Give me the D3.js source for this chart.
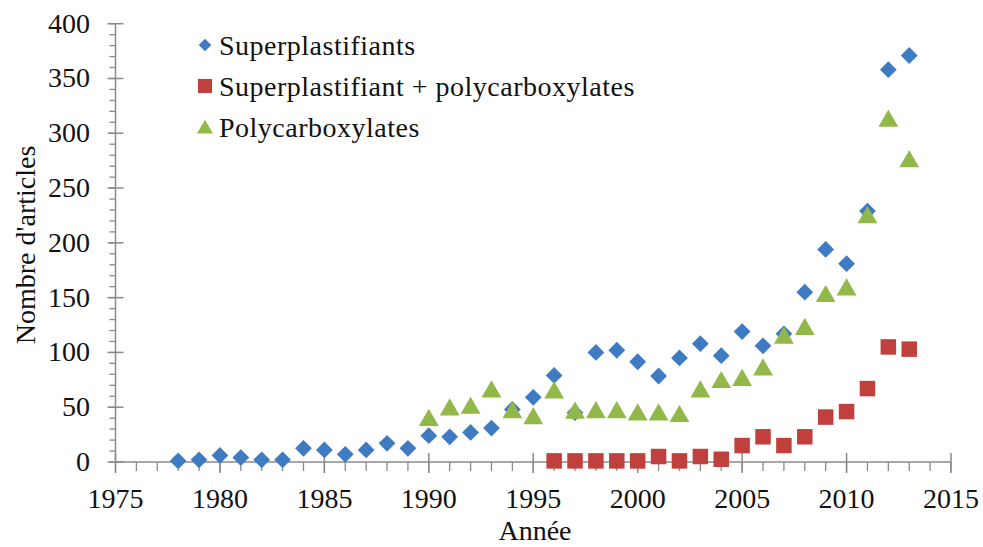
<!DOCTYPE html>
<html>
<head>
<meta charset="utf-8">
<script src="https://cdn.jsdelivr.net/npm/d3@7"></script>
<style>
  body { margin: 0; background: #fff; }
  svg text { font-family: "Liberation Serif", "Times New Roman", serif; fill: #111; }
</style>
</head>
<body>
<svg id="chart" width="983" height="547"></svg>
<script>
// data
var superYears = d3.range(1978, 2014);
var superVals = [1, 2, 6, 4, 2, 2, 12.5, 11, 7, 11, 17, 12.5, 24, 23, 27, 31, 48, 59, 79, 45,
  100, 102, 91.5, 78.5, 95, 108, 97, 119, 106, 117, 155, 194, 181, 229, 358, 371];

var mixYears = d3.range(1996, 2014);
var mixVals = [1, 1, 1, 1, 1, 5, 1, 5, 2.5, 15, 23, 15, 23, 41, 46, 67, 105, 103];

var polyYears = d3.range(1990, 2014);
var polyVals = [40, 49.5, 51, 66, 47, 41.5, 65, 46.5, 47, 47, 45, 45, 43.5, 66, 74.5, 76.5,
  86, 115, 123, 153, 159, 225, 313, 276];

var xTicks = [1975, 1980, 1985, 1990, 1995, 2000, 2005, 2010, 2015];
var yTicks = [0, 50, 100, 150, 200, 250, 300, 350, 400];

var seriesNames = ["Superplastifiants", "Superplastifiant + polycarboxylates", "Polycarboxylates"];
var colors = ["#3f7bc2", "#c0403d", "#93b84a"];

var svg = d3.select("#chart");
var plotLeft = 115.5, plotRight = 951, plotTop = 23.7, plotBottom = 462;

var x = d3.scaleLinear().domain([1975, 2015]).range([plotLeft, plotRight]);
var y = d3.scaleLinear().domain([0, 400]).range([plotBottom, plotTop]);

var axisColor = "#8a8a8a";
var fs = 28;

// minor ticks
var g = svg.append("g");
g.selectAll(".ymin").data(d3.range(0, 401, 10)).enter().append("line")
  .attr("x1", plotLeft - 6).attr("x2", plotLeft)
  .attr("y1", d => y(d)).attr("y2", d => y(d))
  .attr("stroke", axisColor).attr("stroke-width", 1.3);
g.selectAll(".xmin").data(d3.range(1975, 2016)).enter().append("line")
  .attr("x1", d => x(d)).attr("x2", d => x(d))
  .attr("y1", plotBottom).attr("y2", plotBottom + 9)
  .attr("stroke", axisColor).attr("stroke-width", 1.3);

// major ticks cross the axes
g.selectAll(".ymaj").data(yTicks).enter().append("line")
  .attr("x1", plotLeft - 8).attr("x2", plotLeft + 8)
  .attr("y1", d => y(d)).attr("y2", d => y(d))
  .attr("stroke", axisColor).attr("stroke-width", 1.5);
g.selectAll(".xmaj").data(xTicks).enter().append("line")
  .attr("x1", d => x(d)).attr("x2", d => x(d))
  .attr("y1", plotBottom - 9).attr("y2", plotBottom + 11)
  .attr("stroke", axisColor).attr("stroke-width", 1.5);

// axis lines
g.append("line").attr("x1", plotLeft).attr("x2", plotLeft).attr("y1", plotTop).attr("y2", plotBottom)
  .attr("stroke", axisColor).attr("stroke-width", 1.5);
g.append("line").attr("x1", plotLeft).attr("x2", plotRight).attr("y1", plotBottom).attr("y2", plotBottom)
  .attr("stroke", axisColor).attr("stroke-width", 1.5);

// tick labels
svg.selectAll(".ylab").data(yTicks).enter().append("text")
  .attr("x", 90).attr("y", d => y(d) + 9)
  .attr("text-anchor", "end").attr("font-size", fs)
  .text(d => d);
svg.selectAll(".xlab").data(xTicks).enter().append("text")
  .attr("x", d => x(d)).attr("y", 508)
  .attr("text-anchor", "middle").attr("font-size", fs)
  .text(d => d);

// axis titles
svg.append("text").attr("x", 535).attr("y", 540).attr("text-anchor", "middle")
  .attr("font-size", fs).text("Année");
svg.append("text").attr("transform", "translate(35,245) rotate(-90)")
  .attr("text-anchor", "middle").attr("font-size", fs).text("Nombre d'articles");

// markers
var diamond = d3.symbol().type(d3.symbolDiamond2).size(180);
var square = d3.symbol().type(d3.symbolSquare).size(240);
var triangle = d3.symbol().type(d3.symbolTriangle).size(170);

function plot(years, vals, sym, color, dy) {
  svg.append("g").selectAll("path").data(years).enter().append("path")
    .attr("d", sym)
    .attr("transform", (d, i) => "translate(" + x(d) + "," + (y(vals[i]) + dy) + ")")
    .attr("fill", color);
}
plot(superYears, superVals, diamond, colors[0], 0);
plot(mixYears, mixVals, square, colors[1], 0);
plot(polyYears, polyVals, triangle, colors[2], 2);

// legend
var legendY = [45, 86, 127];
var legendSym = [d3.symbol().type(d3.symbolDiamond2).size(100),
  d3.symbol().type(d3.symbolSquare).size(200),
  d3.symbol().type(d3.symbolTriangle).size(110)];
var lg = svg.append("g");
seriesNames.forEach(function (name, i) {
  lg.append("path").attr("d", legendSym[i]())
    .attr("transform", "translate(205," + (legendY[i] + (i == 2 ? 2 : 0)) + ")")
    .attr("fill", colors[i]);
  lg.append("text").attr("x", 219).attr("y", legendY[i] + 10)
    .attr("font-size", fs).attr("letter-spacing", 0.5).text(name);
});
</script>
</body>
</html>
